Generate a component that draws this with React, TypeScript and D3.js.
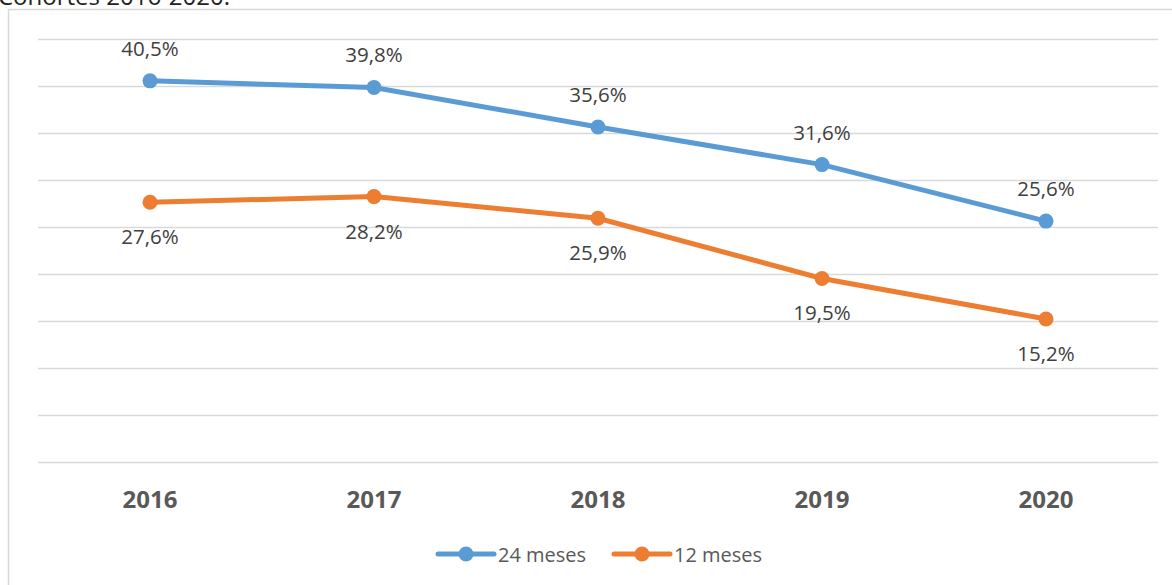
import * as d3 from "d3";

// Cohort values (%)
const years = ["2016", "2017", "2018", "2019", "2020"];
const meses24 = [40.5, 39.8, 35.6, 31.6, 25.6];
const meses12 = [27.6, 28.2, 25.9, 19.5, 15.2];
const gridTicks = [0, 5, 10, 15, 20, 25, 30, 35, 40, 45];

const W = 1172;
const H = 585;
const BLUE = "#5B9BD5";
const ORANGE = "#ED7D31";
const FONT = "'Open Sans', 'Liberation Sans', sans-serif";

const fmt = (v: number) => v.toFixed(1).replace(".", ",") + "%";

export default function App() {
  const x = d3.scaleBand<string>().domain(years).range([38, 1158]);
  const y = d3.scaleLinear().domain([0, 45]).range([462, 38.5]);
  const cx = (d: string) => (x(d) ?? 0) + x.bandwidth() / 2;

  const line = d3
    .line<number>()
    .x((_, i) => cx(years[i]))
    .y((v) => y(v));

  const series = [
    { name: "24 meses", values: meses24, color: BLUE, above: true, lx: 438 },
    { name: "12 meses", values: meses12, color: ORANGE, above: false, lx: 614 },
  ];

  return (
    <svg
      width={W}
      height={H}
      style={{ position: "absolute", left: 0, top: 0, background: "#fff" }}
      fontFamily={FONT}
    >
      {/* title of the page above, clipped at the top edge as in the source */}
      <text x={-2} y={5} fontSize={24} fill="#222">
        Cohortes 2016-2020.
      </text>

      {/* chart frame */}
      <rect x={8.5} y={9.5} width={W} height={H} fill="none" stroke="#d9d9d9" strokeWidth={1.5} />

      {/* gridlines */}
      {gridTicks.map((t) => (
        <line
          key={t}
          x1={38}
          x2={1158}
          y1={Math.round(y(t)) + 0.5}
          y2={Math.round(y(t)) + 0.5}
          stroke="#d9d9d9"
          strokeWidth={1.5}
        />
      ))}

      {/* x axis labels */}
      {years.map((yr) => (
        <text
          key={yr}
          x={cx(yr)}
          y={508}
          textAnchor="middle"
          fontSize={24}
          fontWeight="bold"
          fill="#595959"
        >
          {yr}
        </text>
      ))}

      {series.map((s) => (
        <g key={s.name}>
          <path d={line(s.values) ?? ""} fill="none" stroke={s.color} strokeWidth={5} strokeLinecap="round" />
          {s.values.map((v, i) => (
            <circle key={i} cx={cx(years[i])} cy={y(v)} r={7.5} fill={s.color} />
          ))}
          {s.values.map((v, i) => (
            <text
              key={"l" + i}
              x={cx(years[i])}
              y={s.above ? y(v) - 25 : y(v) + 42}
              textAnchor="middle"
              fontSize={20.5}
              fill="#404040"
            >
              {fmt(v)}
            </text>
          ))}
          {/* legend entry */}
          <line x1={s.lx} x2={s.lx + 56} y1={554} y2={554} stroke={s.color} strokeWidth={5} strokeLinecap="round" />
          <circle cx={s.lx + 28} cy={554} r={7.5} fill={s.color} />
          <text x={s.lx + 60} y={562} fontSize={20} fill="#595959">
            {s.name}
          </text>
        </g>
      ))}
    </svg>
  );
}
